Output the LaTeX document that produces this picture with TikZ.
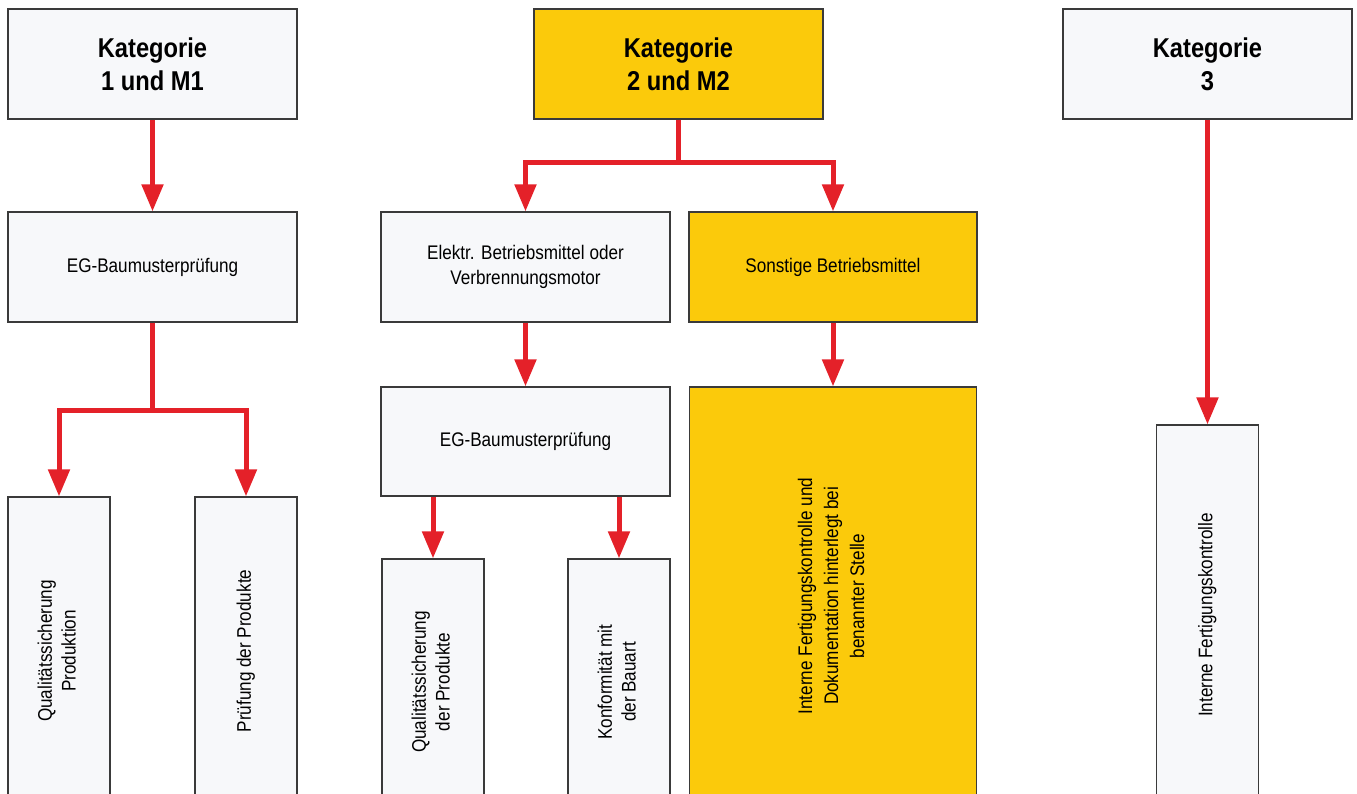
\documentclass[tikz,border=0pt]{standalone}
\usepackage{fontspec}
\usepackage{graphicx}
\usepackage{tikz}
\usetikzlibrary{positioning,arrows.meta}
\newfontfamily\condfont[FakeStretch=0.87]{Liberation Sans}
\definecolor{boxgray}{HTML}{F7F8FA}
\definecolor{boxline}{HTML}{3A3A3A}
\definecolor{katyellow}{HTML}{FBCA0B}
\definecolor{arrowred}{HTML}{E42129}
\newcommand{\vtext}[1]{\rotatebox{90}{\begin{tabular}{@{}c@{}}#1\end{tabular}}}
\tikzset{
  box/.style={rectangle, draw=boxline, fill=boxgray, line width=0.7pt, inner sep=2pt, align=center,
              font=\condfont\fontsize{11.2}{14.2}\selectfont},
  katbox/.style={box, minimum width=5.78cm, minimum height=2.2cm,
                 font=\condfont\bfseries\fontsize{15.5}{18.7}\selectfont},
  widebox/.style={box, minimum width=5.78cm, minimum height=2.2cm},
  tallbox/.style={box, minimum width=2.04cm, font=\condfont\fontsize{11.2}{13.6}\selectfont},
  yellow/.style={fill=katyellow},
  fwd/.style={draw=arrowred, line width=0.1cm, -{Triangle[length=5.4mm,width=4.2mm]}},
}
\begin{document}
\begin{tikzpicture}[x=0.02cm, y=-0.02cm]
  \useasboundingbox (0,0) rectangle (1357,794);
  \clip (0,0) rectangle (1357,794); % tall boxes run off the bottom edge

  % top row
  \node[katbox] (kat1) at (152.5,64) {Kategorie\\1 und M1};
  \node[katbox, yellow] (kat2) at (678.5,64) {Kategorie\\2 und M2};
  \node[katbox] (kat3) at (1207.5,64) {Kategorie\\3};

  \node[widebox] (egA) at (152.5,267) {EG-Baumusterprüfung};
  \node[widebox] (elektr) at (525.5,267) {Elektr. Betriebsmittel oder\\Verbrennungsmotor};
  \node[widebox, yellow, minimum width=5.76cm] (sonst) at (833,267) {Sonstige Betriebsmittel};
  \node[widebox, minimum height=2.18cm] (egB) at (525.5,441.5) {EG-Baumusterprüfung};

  % tall boxes
  \node[tallbox, minimum height=6.16cm] (qualA) at (59,651) {\vtext{Qualitätssicherung\\Produktion}};
  \node[tallbox, minimum height=6.16cm] (pruef) at (246,651) {\vtext{Prüfung der Produkte}};
  \node[tallbox, minimum height=4.92cm] (qualB) at (433,682) {\vtext{Qualitätssicherung\\der Produkte}};
  \node[tallbox, minimum height=4.92cm] (konf) at (619,682) {\vtext{Konformität mit\\der Bauart}};
  \node[tallbox, yellow, minimum width=5.74cm, minimum height=8.36cm,
        font=\condfont\fontsize{11.2}{14.8}\selectfont] (intern) at (833,596)
    {\vtext{Interne Fertigungskontrolle und\\Dokumentation hinterlegt bei\\benannter Stelle}};
  \node[tallbox, minimum height=7.6cm] (internC) at (1207.5,615) {\vtext{Interne Fertigungskontrolle}};

  \coordinate (splitA) at (152.5,410);
  \coordinate (splitB) at (678.5,163);

  \draw[fwd] (kat1) -- (egA);
  \draw[fwd] (egA) -- (splitA) -| (qualA);
  \draw[fwd] (splitA) -| (pruef);

  \draw[fwd] (kat2) -- (splitB) -| (elektr);
  \draw[fwd] (splitB) -| (sonst);
  \draw[fwd] (elektr) -- (egB);
  \draw[fwd] (sonst) -- (intern);
  \draw[fwd] (egB.south -| qualB) -- (qualB);
  \draw[fwd] (egB.south -| konf) -- (konf);

  \draw[fwd] (kat3) -- (internC);
\end{tikzpicture}
\end{document}
